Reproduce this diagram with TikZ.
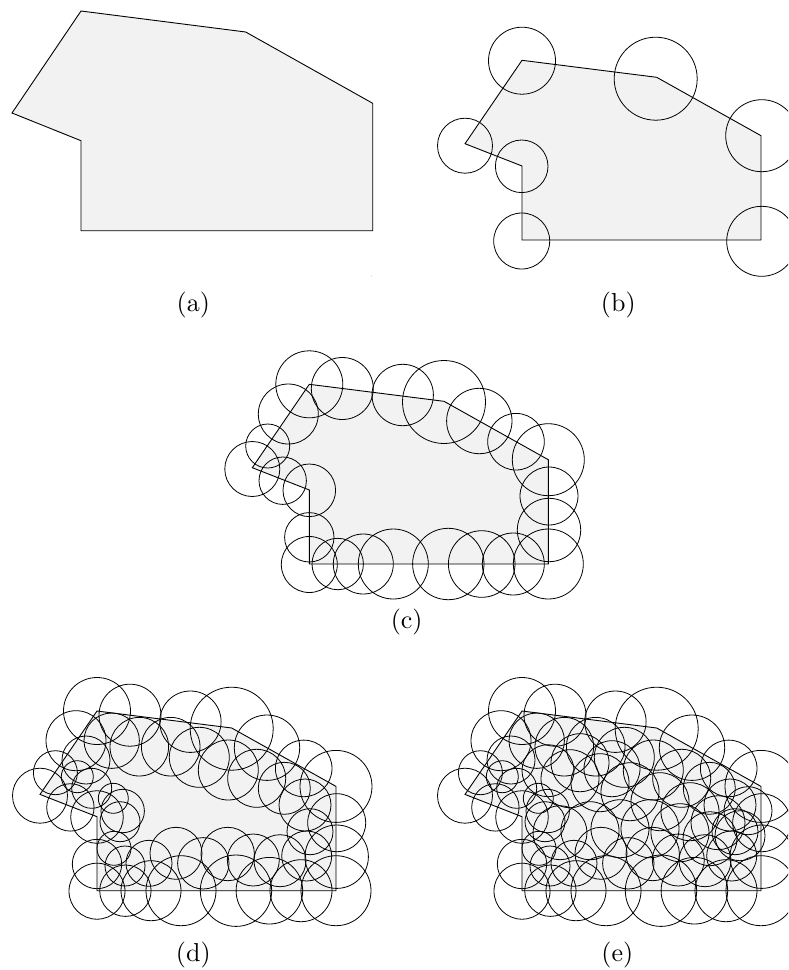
\documentclass[tikz,border=0pt]{standalone}
\usepackage{graphicx}
\tikzset{
  poly/.style={fill=gray!10, draw=black, line width=0.9pt, line join=miter},
  circ/.style={draw=black, line width=0.8pt},
  lab/.style={inner sep=0pt}
}
\newcommand\lbl[1]{\scalebox{2.6}{#1}}
\newcommand\polyB{\draw[poly] (522,60.3) -- (656.7,77.3) -- (761,135.7) -- (761,240) -- (522,240) -- (522,166) -- (465,143.7) -- cycle;}
\def\ringB{522/60.7/33.5, 655.7/78.7/41.5, 761.7/135.7/36, 465/145.7/27.5, 521.7/166.3/26.3, 521.7/241/28, 761.7/241.3/35}
\def\ringC{522/60.3/33.5, 555/64.5/31, 501/90/30, 480.4/122/22, 465/145/27.5, 495.4/156.7/23.7, 522/166.3/26.3, 522/213.3/24.7, 522/240.5/28, 550.4/240/25.7, 576/240/30, 606/240/35, 661/240/35.7, 694.4/240/33.3, 726/240/31, 761/240/35, 761.7/206/31.7, 761.7/172/29, 761/135.7/36, 728.7/117.7/28.3, 692/97/32.7, 656.7/78/41.5, 615.4/71/30.7}
\def\ringD{536.7/90/27.7, 564.3/96/29.3, 595.7/96/29.3, 624.3/106.6/30, 653.3/119.3/30, 681.7/127.6/29, 709.3/137.6/26, 730/154.3/26, 735/181/23, 731.7/205.3/25, 705/210/26, 678.3/209.3/26, 652.7/203.3/26.7, 628.3/212.6/25.7, 601/202.6/26, 574/212.6/23, 550/215.3/20, 539/197.6/17, 545/171/20, 547.7/160.3/21.7, 538.3/147.6/15, 516.7/137.6/20, 502.3/126/16, 511/109.3/24}
\def\ringE{570/128/29, 600/132/29, 630/141/29, 660/151/29, 690/161/29, 718/172/27, 560/182/27, 590/180/29, 620/178/29, 650/178/29, 680/182/29, 710/188/27, 740/185/25, 748/160/24, 580/112/29, 612/118/28, 548/120/26}
\begin{document}
\begin{tikzpicture}[x=1pt,y=-1pt]
\useasboundingbox (0,0) rectangle (788,970);
\clip (0,0) rectangle (788,970);
% (a)
\draw[poly] (81,11) -- (245.7,32) -- (372.7,103.3) -- (372.7,230.7) -- (81,230.7) -- (81,140.7) -- (12,113) -- cycle;
\fill[gray!60] (371.7,276) circle[radius=0.5pt];
\node[lab] (la) at (193.3,305) {\lbl{(a)}};
% (b)
\polyB
\foreach \x/\y/\r in \ringB {\draw[circ] (\x,\y) circle[radius=\r pt];}
\node[lab] (lb) at (618.3,305) {\lbl{(b)}};
% (c)
\begin{scope}[shift={(-212.7,324)}]
\polyB
\foreach \x/\y/\r in \ringC {\draw[circ] (\x,\y) circle[radius=\r pt];}
\end{scope}
\node[lab] (lc) at (406.7,621.5) {\lbl{(c)}};
% (d)
\begin{scope}[shift={(-425,650.7)}]
\polyB
\foreach \x/\y/\r in \ringC {\draw[circ] (\x,\y) circle[radius=\r pt];}
\foreach \x/\y/\r in \ringD {\draw[circ] (\x,\y) circle[radius=\r pt];}
\end{scope}
\node[lab] (ld) at (193.3,955) {\lbl{(d)}};
% (e)
\begin{scope}[shift={(0,650.7)}]
\polyB
\foreach \x/\y/\r in \ringC {\draw[circ] (\x,\y) circle[radius=\r pt];}
\foreach \x/\y/\r in \ringD {\draw[circ] (\x,\y) circle[radius=\r pt];}
\foreach \x/\y/\r in \ringE {\draw[circ] (\x,\y) circle[radius=\r pt];}
\end{scope}
\node[lab] (le) at (617.3,955) {\lbl{(e)}};
\end{tikzpicture}
\end{document}
